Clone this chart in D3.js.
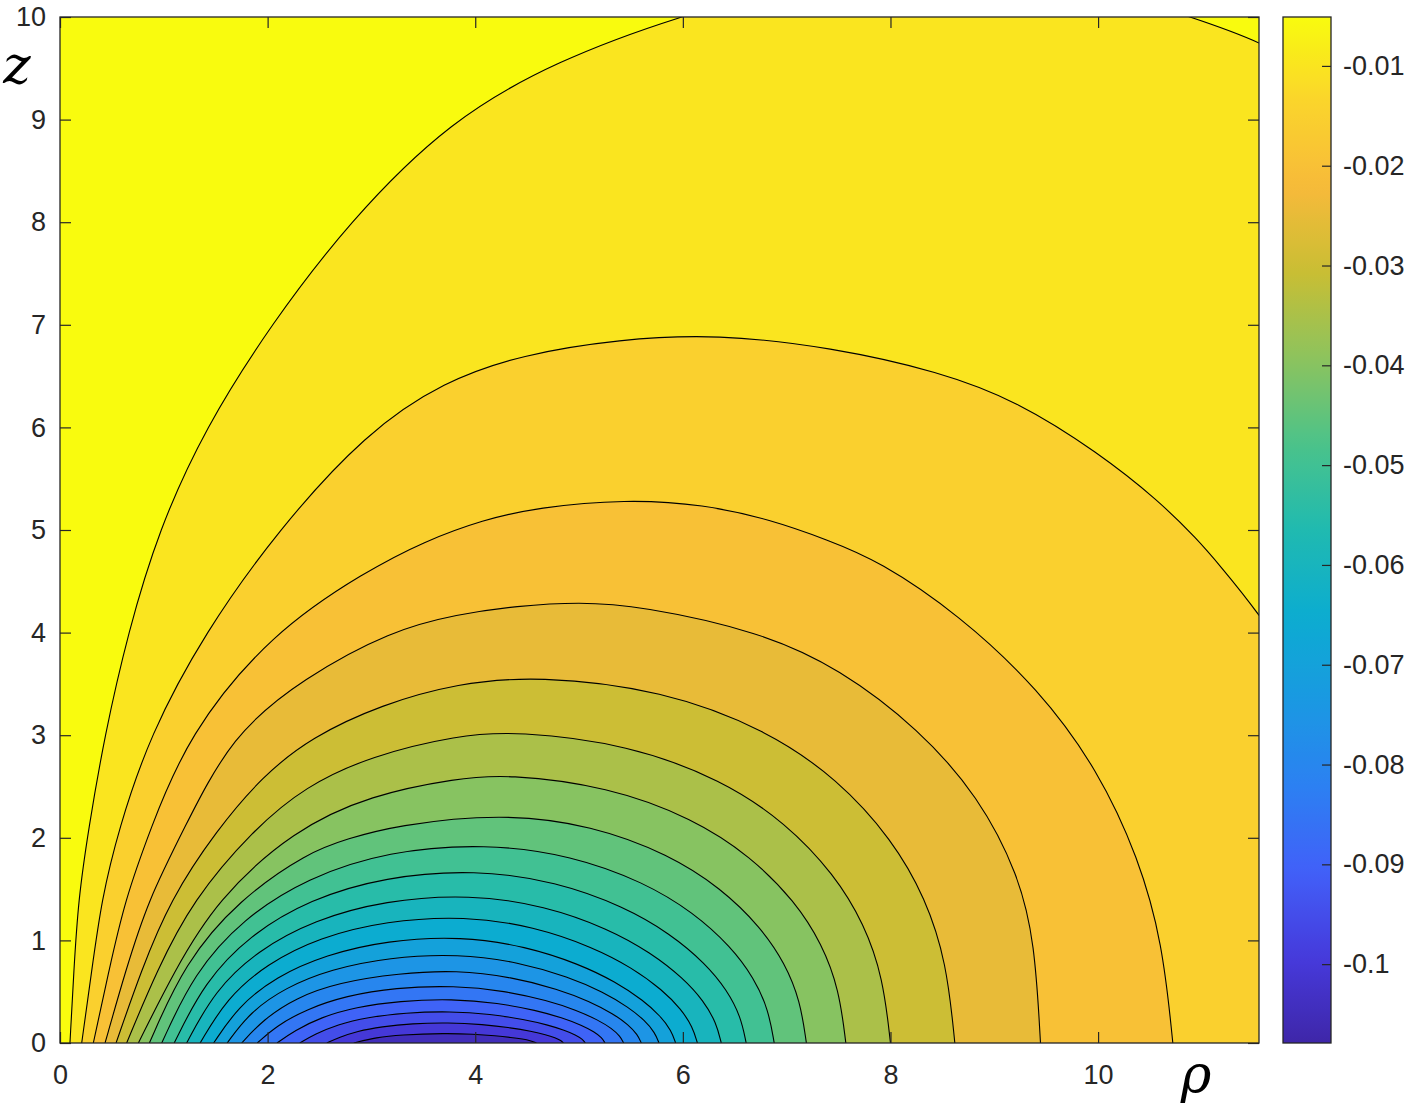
<!DOCTYPE html>
<html>
<head>
<meta charset="utf-8">
<script src="https://cdn.jsdelivr.net/npm/d3@7"></script>
<style>
  body { margin: 0; background: #fff; }
</style>
</head>
<body>
<script>
// axis ranges and ticks
const rhoDomain   = [0, 11.55];
const zDomain     = [0, 10];
const rhoTicks    = [0, 2, 4, 6, 8, 10];
const zTicks      = [0, 1, 2, 3, 4, 5, 6, 7, 8, 9, 10];
const colorDomain = [-0.1079, -0.0051];
const colorTicks  = [-0.01, -0.02, -0.03, -0.04, -0.05, -0.06, -0.07, -0.08, -0.09, -0.1];

// contour levels, outermost first
const levels = [-0.01, -0.015, -0.02, -0.025, -0.03, -0.035, -0.04, -0.045, -0.05, -0.055,
                -0.06, -0.065, -0.07, -0.075, -0.08, -0.085, -0.09, -0.095, -0.1, -0.105];

// contour lines as [rho, z] points, left foot -> right foot (or out of the box)
const line010 = [[0.096,0],[0.133,0.7],[0.176,1.394],[0.273,2.076],[0.43,3],[0.655,4],[0.95,5],[1.40,6],
                 [2.03,7],[2.78,8],[3.76,9],[4.8,9.58],[5.93,10],[7.2,10.35],[8.5,10.48],[9.8,10.35],
                 [10.9,10.0],[11.55,9.77],[12.2,9.4]];
const line015 = [[0.209,0],[0.305,0.7],[0.40,1.394],[0.562,2.076],[0.864,3],[1.394,4],[2.1,5],[2.95,5.95],
                 [3.70,6.45],[4.45,6.71],[5.39,6.86],[6.33,6.91],[7.43,6.78],[8.47,6.545],[9.235,6.25],
                 [10.0,5.755],[10.58,5.29],[10.96,4.905],[11.16,4.67],[11.55,4.19],[12.0,3.5]];
const line020 = [[0.321,0],[0.47,0.7],[0.626,1.394],[0.867,2.076],[1.23,3],[2.04,4],[2.95,4.6],[3.51,4.89],
                 [4.075,5.1],[4.6,5.22],[5.45,5.30],[6.2,5.25],[6.85,5.10],[7.39,4.905],[7.89,4.70],
                 [8.66,4.175],[9.43,3.45],[10.0,2.66],[10.39,1.805],[10.62,0.98],[10.72,0]];
const line025 = [[0.434,0],[0.63,0.7],[0.85,1.394],[1.188,2.076],[1.65,3],[2.35,3.56],[3.19,4.02],[3.83,4.18],
                 [4.4,4.26],[5.0,4.30],[5.59,4.26],[6.74,4.01],[7.51,3.65],[8.28,3.055],[8.85,2.40],
                 [9.235,1.64],[9.39,0.98],[9.445,0]];
const line030 = [[0.54,0],[0.78,0.7],[1.06,1.394],[1.51,2.076],[1.95,2.6],[2.42,2.98],[3.1,3.3],[3.83,3.506],
                 [4.6,3.58],[5.806,3.44],[6.811,3.05],[7.494,2.57],[8.017,1.983],[8.339,1.41],[8.54,0.788],
                 [8.62,0]];
const line035 = [[0.642,0],[0.93,0.7],[1.28,1.394],[1.86,2.076],[2.36,2.5],[3.0,2.8],[3.83,3.0],[4.4,3.04],
                 [5.48,2.909],[6.38,2.563],[6.992,2.146],[7.46,1.642],[7.748,1.158],[7.928,0.638],[8.0,0]];
const line040 = [[0.755,0],[1.1,0.7],[1.51,1.394],[2.25,2.076],[3.0,2.42],[3.83,2.58],[4.3,2.62],
                 [5.281,2.50],[6.099,2.188],[6.654,1.818],[7.08,1.381],[7.341,0.964],[7.505,0.521],[7.57,0]];
const line045 = [[0.861,0],[1.20,0.78],[1.72,1.394],[2.39,1.86],[2.77,1.99],[3.23,2.12],[4.25,2.24],
                 [5.132,2.121],[5.867,1.837],[6.367,1.51],[6.749,1.131],[6.984,0.777],[7.131,0.41],[7.19,0]];
const line050 = [[0.98,0],[1.29,0.68],[1.76,1.21],[2.38,1.61],[3.16,1.87],[4.1,1.945],
                 [4.934,1.828],[5.629,1.566],[6.102,1.272],[6.463,0.939],[6.685,0.634],[6.824,0.327],[6.88,0]];
const line055 = [[1.10,0],[1.39,0.59],[1.825,1.05],[2.405,1.40],[3.13,1.62],[4.0,1.69],
                 [4.783,1.573],[5.436,1.328],[5.879,1.065],[6.219,0.774],[6.427,0.514],[6.558,0.257],[6.61,0]];
const line060 = [[1.22,0],[1.49,0.51],[1.90,0.90],[2.45,1.20],[3.13,1.39],[3.95,1.45],
                 [4.676,1.337],[5.281,1.114],[5.692,0.88],[6.007,0.629],[6.201,0.409],[6.322,0.197],[6.37,0]];
const line065 = [[1.35,0],[1.605,0.434],[1.99,0.77],[2.50,1.03],[3.14,1.19],[3.9,1.24],
                 [4.572,1.133],[5.132,0.934],[5.513,0.732],[5.804,0.516],[5.983,0.33],[6.095,0.156],[6.14,0]];
const line070 = [[1.48,0],[1.72,0.36],[2.08,0.645],[2.56,0.86],[3.15,1.0],[3.87,1.04],
                 [4.488,0.942],[5.003,0.769],[5.353,0.595],[5.621,0.414],[5.786,0.261],[5.889,0.121],[5.93,0]];
const line075 = [[1.61,0],[1.83,0.30],[2.17,0.54],[2.61,0.72],[3.17,0.835],[3.84,0.87],
                 [4.419,0.788],[4.902,0.643],[5.23,0.498],[5.481,0.346],[5.635,0.218],[5.731,0.101],[5.77,0]];
const line080 = [[1.75,0],[1.96,0.23],[2.27,0.44],[2.68,0.59],[3.27,0.68],[3.82,0.71],
                 [4.354,0.643],[4.799,0.525],[5.102,0.406],[5.333,0.283],[5.475,0.178],[5.564,0.082],[5.60,0]];
const line085 = [[1.90,0],[2.09,0.17],[2.375,0.33],[2.755,0.46],[3.23,0.54],[3.80,0.56],
                 [4.289,0.507],[4.697,0.414],[4.974,0.32],[5.186,0.223],[5.316,0.141],[5.397,0.065],[5.43,0]];
const line090 = [[2.09,0],[2.26,0.12],[2.51,0.25],[2.85,0.35],[3.27,0.41],[3.78,0.43],
                 [4.221,0.39],[4.589,0.318],[4.838,0.246],[5.03,0.171],[5.147,0.108],[5.221,0.05],[5.25,0]];
const line095 = [[2.31,0],[2.455,0.085],[2.67,0.18],[2.96,0.25],[3.325,0.295],[3.76,0.31],
                 [4.15,0.281],[4.475,0.229],[4.696,0.177],[4.865,0.123],[4.969,0.078],[5.034,0.036],[5.06,0]];
const line100 = [[2.57,0],[2.69,0.055],[2.86,0.115],[3.10,0.16],[3.39,0.19],[3.74,0.20],
                 [4.073,0.181],[4.351,0.148],[4.539,0.114],[4.684,0.08],[4.772,0.05],[4.828,0.023],[4.85,0]];
const line105 = [[2.83,0],[3.05,0.055],[3.27,0.08],[3.72,0.095],
                 [3.981,0.086],[4.199,0.07],[4.346,0.054],[4.46,0.038],[4.529,0.024],[4.59,0]];

const contourLines = [line010, line015, line020, line025, line030, line035, line040, line045, line050, line055,
                      line060, line065, line070, line075, line080, line085, line090, line095, line100, line105];

// parula-like colormap, low -> high
const PARULA = ['#3e26a8', '#463adc', '#4160f8', '#2c80f2', '#1a99e2', '#0cacd0', '#20bab0',
                '#4bc38a', '#8cc35e', '#c8be34', '#f7ba3a', '#fad42c', '#f9fb0e'];

const WIDTH  = 1414;
const HEIGHT = 1110;
const PLOT = { left: 60, top: 17, right: 1259, bottom: 1043 };
const CBAR = { left: 1283, width: 48 };
const TEXT_COLOR = '#262626';
const TICK_FONT = 'Liberation Sans, Arial, Helvetica, sans-serif';

const svg = d3.select('body').append('svg')
  .attr('width', WIDTH)
  .attr('height', HEIGHT)
  .style('background', '#fff');

const x = d3.scaleLinear().domain(rhoDomain).range([PLOT.left, PLOT.right]);
const y = d3.scaleLinear().domain(zDomain).range([PLOT.bottom, PLOT.top]);

const color = d3.scaleLinear()
  .domain(PARULA.map((c, i) => colorDomain[0] + i * (colorDomain[1] - colorDomain[0]) / (PARULA.length - 1)))
  .range(PARULA)
  .interpolate(d3.interpolateRgb)
  .clamp(true);

const defs = svg.append('defs');
defs.append('clipPath')
  .attr('id', 'plot-clip')
  .append('rect')
    .attr('x', PLOT.left)
    .attr('y', PLOT.top)
    .attr('width', PLOT.right - PLOT.left)
    .attr('height', PLOT.bottom - PLOT.top);

// filled contours
const field = svg.append('g').attr('clip-path', 'url(#plot-clip)');

// region above the highest level
field.append('rect')
  .attr('x', PLOT.left)
  .attr('y', PLOT.top)
  .attr('width', PLOT.right - PLOT.left)
  .attr('height', PLOT.bottom - PLOT.top)
  .attr('fill', color(colorDomain[1]));

// smooth b-spline through the read points (ends stay on the feet)
const line = d3.line()
  .x(d => x(d[0]))
  .y(d => y(d[1]))
  .curve(d3.curveBasis);

// each line encloses the lower values; close it below the z = 0 axis
function regionPath(pts) {
  const first = pts[0], last = pts[pts.length - 1];
  return line(pts) +
    'L' + x(last[0]) + ',' + y(-0.6) +
    'L' + x(first[0]) + ',' + y(-0.6) + 'Z';
}

field.selectAll('path.band')
  .data(contourLines)
  .join('path')
    .attr('class', 'band')
    .attr('d', regionPath)
    .attr('fill', (d, i) => color(levels[i]))
    .attr('stroke', 'none');

field.selectAll('path.iso')
  .data(contourLines)
  .join('path')
    .attr('class', 'iso')
    .attr('d', line)
    .attr('fill', 'none')
    .attr('stroke', '#000')
    .attr('stroke-width', 1.1);

// axes, ticks pointing inwards
function styleAxis(g) {
  g.select('.domain').remove();
  g.attr('font-size', 27)
    .attr('font-family', TICK_FONT)
    .attr('color', TEXT_COLOR);
  g.selectAll('.tick line').attr('stroke-width', 1.2);
}

svg.append('g')
  .attr('transform', 'translate(0,' + PLOT.bottom + ')')
  .call(d3.axisBottom(x).tickValues(rhoTicks).tickSize(-11).tickSizeOuter(0).tickPadding(22))
  .call(styleAxis);

svg.append('g')
  .attr('transform', 'translate(0,' + PLOT.top + ')')
  .call(d3.axisTop(x).tickValues(rhoTicks).tickSize(-11).tickSizeOuter(0).tickFormat(''))
  .call(styleAxis);

svg.append('g')
  .attr('transform', 'translate(' + PLOT.left + ',0)')
  .call(d3.axisLeft(y).tickValues(zTicks).tickSize(-11).tickSizeOuter(0).tickPadding(14))
  .call(styleAxis);

svg.append('g')
  .attr('transform', 'translate(' + PLOT.right + ',0)')
  .call(d3.axisRight(y).tickValues(zTicks).tickSize(-11).tickSizeOuter(0).tickFormat(''))
  .call(styleAxis);

svg.append('rect')
  .attr('x', PLOT.left)
  .attr('y', PLOT.top)
  .attr('width', PLOT.right - PLOT.left)
  .attr('height', PLOT.bottom - PLOT.top)
  .attr('fill', 'none')
  .attr('stroke', TEXT_COLOR)
  .attr('stroke-width', 1.3);

// colorbar
const yc = d3.scaleLinear().domain(colorDomain).range([PLOT.bottom, PLOT.top]);

const grad = defs.append('linearGradient')
  .attr('id', 'cbar-grad')
  .attr('x1', 0).attr('y1', 1)
  .attr('x2', 0).attr('y2', 0);
grad.selectAll('stop')
  .data(d3.range(0, 1.0001, 1 / 64))
  .join('stop')
    .attr('offset', d => d)
    .attr('stop-color', d => color(colorDomain[0] + d * (colorDomain[1] - colorDomain[0])));

svg.append('rect')
  .attr('x', CBAR.left)
  .attr('y', PLOT.top)
  .attr('width', CBAR.width)
  .attr('height', PLOT.bottom - PLOT.top)
  .attr('fill', 'url(#cbar-grad)')
  .attr('stroke', TEXT_COLOR)
  .attr('stroke-width', 1.3);

svg.append('g')
  .attr('transform', 'translate(' + (CBAR.left + CBAR.width) + ',0)')
  .call(d3.axisRight(yc).tickValues(colorTicks).tickSize(-9).tickSizeOuter(0).tickPadding(12)
    .tickFormat(d => String(d)))
  .call(styleAxis);

// axis names
svg.append('text')
  .attr('x', 17)
  .attr('y', 83)
  .attr('text-anchor', 'middle')
  .attr('font-family', 'DejaVu Serif, serif')
  .attr('font-style', 'italic')
  .attr('font-size', 52)
  .attr('fill', '#000')
  .text('z');

svg.append('text')
  .attr('x', 1196)
  .attr('y', 1092)
  .attr('text-anchor', 'middle')
  .attr('font-family', 'DejaVu Serif, serif')
  .attr('font-style', 'italic')
  .attr('font-size', 52)
  .attr('fill', '#000')
  .text('ρ');
</script>
</body>
</html>
